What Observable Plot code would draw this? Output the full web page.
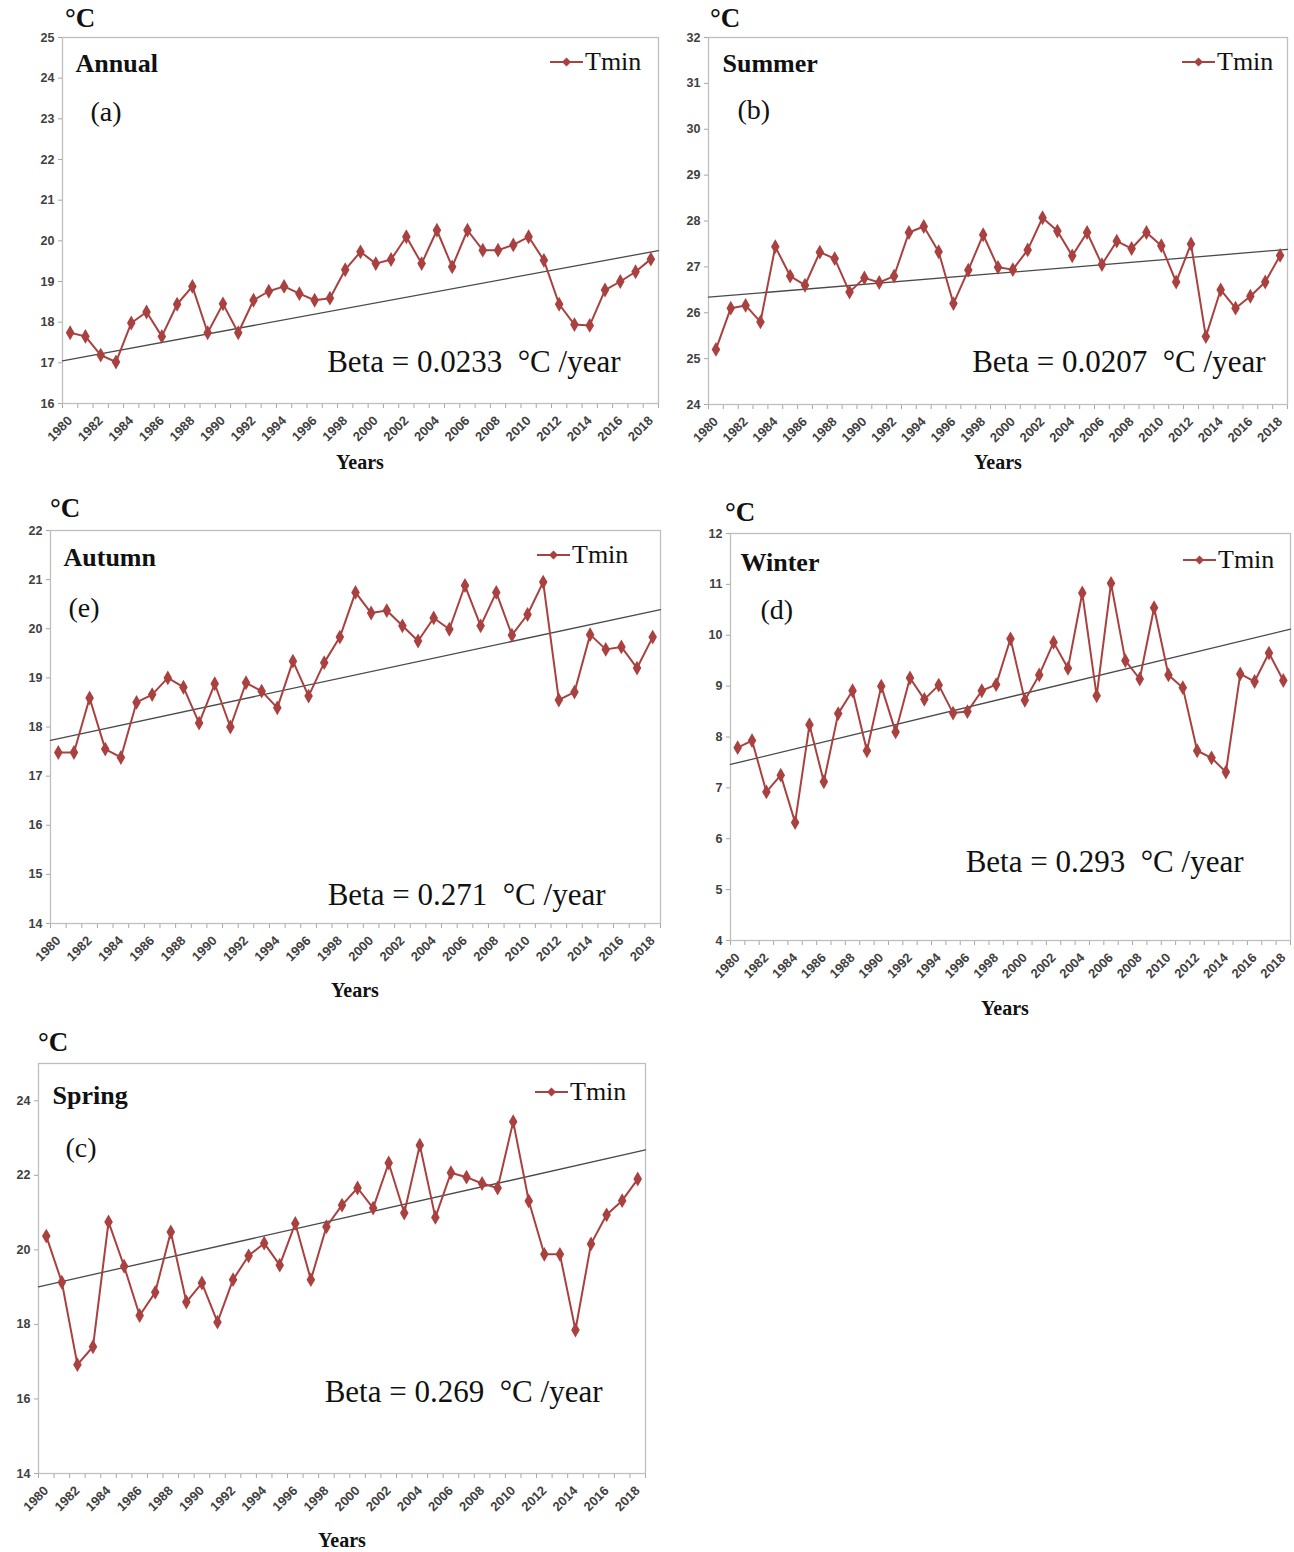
<!DOCTYPE html>
<html><head><meta charset="utf-8">
<script src="https://cdn.jsdelivr.net/npm/d3@7"></script>
<script src="https://cdn.jsdelivr.net/npm/@observablehq/plot@0.6"></script>
<style>
body{margin:0;background:#fff;}
#page{position:relative;width:1294px;height:1552px;overflow:hidden;font-family:"Liberation Serif","Times New Roman",serif;color:#111;}
.abs{position:absolute;white-space:nowrap;line-height:1;}
.unit{font-weight:bold;font-size:27px;transform:translateY(-50%);}
.xtitle{font-weight:bold;font-size:20px;transform:translate(-50%,-50%);}
.legend{font-size:26px;display:flex;align-items:center;transform:translateY(-50%);}
.legend svg{margin-right:2px;}
</style></head><body><div id="page"></div>
<script>
// ---- data ----
const years = [1980,1981,1982,1983,1984,1985,1986,1987,1988,1989,1990,1991,1992,1993,1994,1995,1996,1997,1998,1999,
               2000,2001,2002,2003,2004,2005,2006,2007,2008,2009,2010,2011,2012,2013,2014,2015,2016,2017,2018];
const labelYears = [1980,1982,1984,1986,1988,1990,1992,1994,1996,1998,2000,2002,2004,2006,2008,2010,2012,2014,2016,2018];

const annualTmin = [17.74,17.65,17.19,17.02,17.98,18.25,17.65,18.44,18.88,17.74,18.45,17.74,18.54,18.76,18.88,18.70,18.54,18.59,19.29,19.73,
                    19.44,19.54,20.10,19.44,20.26,19.36,20.26,19.77,19.77,19.90,20.10,19.52,18.44,17.94,17.92,18.79,19.00,19.24,19.55];
const summerTmin = [25.20,26.10,26.16,25.80,27.44,26.80,26.60,27.32,27.18,26.45,26.76,26.66,26.80,27.75,27.88,27.33,26.20,26.93,27.70,26.99,
                    26.94,27.37,28.07,27.78,27.24,27.75,27.05,27.56,27.40,27.75,27.46,26.67,27.50,25.48,26.50,26.10,26.36,26.67,27.25];
const autumnTmin = [17.48,17.48,18.59,17.55,17.38,18.50,18.66,19.00,18.81,18.08,18.88,18.00,18.90,18.73,18.39,19.34,18.63,19.31,19.83,20.74,
                    20.32,20.37,20.06,19.75,20.22,19.99,20.88,20.06,20.74,19.87,20.29,20.95,18.55,18.71,19.88,19.58,19.63,19.20,19.83];
const winterTmin = [7.79,7.93,6.92,7.25,6.32,8.24,7.12,8.46,8.91,7.73,9.00,8.10,9.16,8.74,9.02,8.47,8.50,8.91,9.03,9.93,
                    8.72,9.22,9.86,9.35,10.83,8.81,11.02,9.50,9.14,10.54,9.22,8.97,7.73,7.59,7.31,9.24,9.09,9.65,9.11];
const springTmin = [20.37,19.13,16.92,17.40,20.75,19.56,18.24,18.86,20.48,18.60,19.11,18.06,19.20,19.84,20.18,19.59,20.71,19.20,20.62,21.20,
                    21.66,21.12,22.33,20.99,22.81,20.87,22.07,21.95,21.78,21.66,23.44,21.31,19.88,19.88,17.85,20.16,20.94,21.32,21.90];

// trend line end values (left and right edge of plot area)
const trendEdges = [1979.5, 2018.5];
const annualTrend = [17.05, 19.76];
const summerTrend = [26.34, 27.38];
const autumnTrend = [17.73, 20.39];
const winterTrend = [7.46, 10.12];
const springTrend = [19.01, 22.68];

const annualTicks = [16,17,18,19,20,21,22,23,24,25];
const summerTicks = [24,25,26,27,28,29,30,31,32];
const autumnTicks = [14,15,16,17,18,19,20,21,22];
const winterTicks = [4,5,6,7,8,9,10,11,12];
const springTicks = [14,16,18,20,22,24];

const titles = ["Annual","Summer","Autumn","Winter","Spring"];
const letters = ["(a)","(b)","(e)","(d)","(c)"];
const betas = ["Beta = 0.0233  °C /year","Beta = 0.0207  °C /year","Beta = 0.271  °C /year","Beta = 0.293  °C /year","Beta = 0.269  °C /year"];
const seriesName = "Tmin";
const unitLabel = "°C";
const xTitle = "Years";

// ---- layout ----
const panels = [
  {values: annualTmin, trend: annualTrend, ticks: annualTicks, domain:[16,25], L:62, R:658, T:37, B:403,
   title:[13,26], letter:[28,75], beta:[-38,-41], unit:[65,18], xt:[360,462], leg:[550,62]},
  {values: summerTmin, trend: summerTrend, ticks: summerTicks, domain:[24,32], L:708, R:1287, T:37, B:404,
   title:[14,26], letter:[29,73], beta:[-22,-42], unit:[710,18], xt:[998,462], leg:[1182,62]},
  {values: autumnTmin, trend: autumnTrend, ticks: autumnTicks, domain:[14,22], L:50, R:660, T:530, B:923,
   title:[13,27], letter:[18,78], beta:[-55,-28], unit:[50,508], xt:[355,990], leg:[537,555]},
  {values: winterTmin, trend: winterTrend, ticks: winterTicks, domain:[4,12], L:730, R:1290, T:533, B:940,
   title:[10,29], letter:[30,77], beta:[-47,-78], unit:[725,512], xt:[1005,1008], leg:[1183,560]},
  {values: springTmin, trend: springTrend, ticks: springTicks, domain:[14,25], L:38, R:645, T:1063, B:1473,
   title:[14,32], letter:[27,85], beta:[-43,-81], unit:[38,1042], xt:[342,1540], leg:[535,1092]}
];

const RED = "#a8413f";
const SERIF = "Liberation Serif, Times New Roman, serif";
const NARROW = "Liberation Sans Narrow, Arial Narrow, Liberation Sans, sans-serif";
const page = document.getElementById("page");
const bounds = [1979.5, ...years.map(y => y + 0.5)];

panels.forEach((p, i) => {
  const mL = 40, mR = 6, mT = 8, mB = 56;
  const w = p.R - p.L, h = p.B - p.T;
  const data = years.map((y, k) => ({year: y, t: p.values[k]}));
  const trend = trendEdges.map((y, k) => ({year: y, t: p.trend[k]}));
  const chart = Plot.plot({
    width: w + mL + mR, height: h + mT + mB,
    marginLeft: mL, marginRight: mR, marginTop: mT, marginBottom: mB,
    style: {background: "transparent", overflow: "visible"},
    x: {domain: [1979.5, 2018.5], label: null},
    y: {domain: p.domain, label: null},
    marks: [
      Plot.axisY({ticks: p.ticks, tickSize: 4, tickPadding: 4, stroke: "#a6a6a6", fill: "#404040", label: null,
                  fontSize: 12.5, fontFamily: NARROW, fontWeight: "bold"}),
      Plot.axisX({ticks: bounds, tickSize: 5, tickFormat: () => "", stroke: "#a6a6a6", label: null}),
      Plot.axisX({ticks: labelYears, tickSize: 0, tickPadding: 15, tickRotate: -45, fill: "#404040", label: null,
                  fontSize: 13, fontFamily: NARROW, fontWeight: "bold", tickFormat: d => String(d)}),
      Plot.frame({stroke: "#bfbfbf", strokeWidth: 1.3}),
      Plot.line(trend, {x: "year", y: "t", stroke: "#4a4a4a", strokeWidth: 1.3}),
      Plot.line(data, {x: "year", y: "t", stroke: RED, strokeWidth: 2}),
      Plot.dot(data, {x: "year", y: "t", symbol: "diamond", r: 4.5, fill: RED, stroke: "none"}),
      Plot.text([titles[i]], {text: d => d, frameAnchor: "top-left", dx: p.title[0], dy: p.title[1],
                  textAnchor: "start", lineAnchor: "middle", fontSize: 26, fontWeight: "bold", fontFamily: SERIF, fill: "#111"}),
      Plot.text([letters[i]], {text: d => d, frameAnchor: "top-left", dx: p.letter[0], dy: p.letter[1],
                  textAnchor: "start", lineAnchor: "middle", fontSize: 28, fontFamily: SERIF, fill: "#111"}),
      Plot.text([betas[i]], {text: d => d, frameAnchor: "bottom-right", dx: p.beta[0], dy: p.beta[1],
                  textAnchor: "end", lineAnchor: "middle", fontSize: 31, fontFamily: SERIF, fill: "#111"})
    ]
  });
  chart.style.position = "absolute";
  chart.style.left = (p.L - mL) + "px";
  chart.style.top = (p.T - mT) + "px";
  page.appendChild(chart);

  const unit = document.createElement("div");
  unit.className = "abs unit";
  unit.style.left = p.unit[0] + "px"; unit.style.top = p.unit[1] + "px";
  unit.textContent = unitLabel;
  page.appendChild(unit);

  const xt = document.createElement("div");
  xt.className = "abs xtitle";
  xt.style.left = p.xt[0] + "px"; xt.style.top = p.xt[1] + "px";
  xt.textContent = xTitle;
  page.appendChild(xt);

  const leg = document.createElement("div");
  leg.className = "abs legend";
  leg.style.left = p.leg[0] + "px"; leg.style.top = p.leg[1] + "px";
  leg.innerHTML = `<svg width="33" height="12" viewBox="0 0 33 12"><line x1="0" y1="6" x2="33" y2="6" stroke="${RED}" stroke-width="2"/><path d="M16.5 1.5 L21 6 L16.5 10.5 L12 6 Z" fill="${RED}"/></svg><span>${seriesName}</span>`;
  page.appendChild(leg);
});
</script></body></html>
